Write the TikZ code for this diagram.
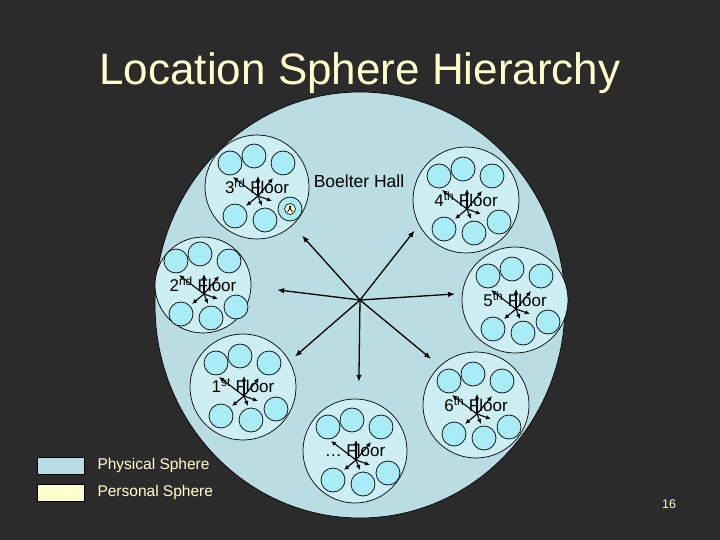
\documentclass[tikz,border=0pt]{standalone}
\usepackage{fontspec}
\setmainfont{Liberation Sans}
\usetikzlibrary{arrows.meta,calc}
\definecolor{slidebg}{HTML}{2B2B2B}
\definecolor{physical}{HTML}{B9DDE2}
\definecolor{floorfill}{HTML}{CDEFF3}
\definecolor{roomfill}{HTML}{A8ECF5}
\definecolor{personal}{HTML}{FFFFCC}

\begin{document}
\begin{tikzpicture}[x=1pt,y=-1pt,
  floorball/.style={circle,draw,line width=0.7pt,fill=floorfill,inner sep=0pt},
  roomball/.style={circle,draw,line width=0.7pt,fill=roomfill,minimum size=24pt,inner sep=0pt},
  hubarrow/.style={line width=1.3pt,-{Latex[length=7pt,width=5.5pt]}},
  stararrow/.style={line width=1.1pt,-{Latex[length=5pt,width=4.5pt]}},
  floorlabel/.style={font=\fontsize{17}{20}\selectfont},
  legendtext/.style={text=personal,anchor=west,font=\fontsize{15.5}{18}\selectfont}]
  \useasboundingbox (0,0) rectangle (720,540);
  \fill[slidebg] (0,0) rectangle (720,540);
  % title
  \node[anchor=base,text=personal,font=\fontsize{44}{50}\selectfont] (title) at (360,85) {Location Sphere Hierarchy};
  % the building
  \draw[fill=physical,line width=0.7pt] (360,305) ellipse [x radius=205,y radius=213];
  \node[font=\fontsize{17.5}{20}\selectfont] (hall) at (359,181) {Boelter Hall};
  % floors
  \foreach \n/\x/\y/\d in {f3/257/187/104,f4/466/200/106,f2/203/285/96,f5/515/300/106,f1/243/387/106,f6/476/405/106,fx/355/451/104}
    \node[floorball,minimum size=\d pt] (\n) at (\x,\y) {};
  % rooms
  \foreach \n in {f3,f4,f2,f5,f1,f6,fx}
    \foreach \dx/\dy [count=\i] in {-27/-24,-3/-31,26/-24,-22/29,8/33,33/22}
      \node[roomball] (\n r\i) at ($(\n.center)+(\dx,\dy)$) {};
  % labels
  \foreach \n/\t in {f3/{3\textsuperscript{rd} Floor},f4/{4\textsuperscript{th} Floor},f2/{2\textsuperscript{nd} Floor},f5/{5\textsuperscript{th} Floor},f1/{1\textsuperscript{st} Floor},f6/{6\textsuperscript{th} Floor},fx/{\dots{} Floor}}
    \node[floorlabel] (\n t) at ($(\n.center)+(0,-1)$) {\t};
  % arrows inside each floor
  \foreach \n in {f3,f4,f2,f5,f1,f6,fx} {
    \coordinate (\n s) at ($(\n.center)+(1,9)$);
    \foreach \dx/\dy in {-25/-19,0/-20,15/-18,14/5,-12/10,4/10}
      \draw[stararrow] (\n s) -- ++(\dx,\dy);
  }
  % arrows from the hall to the floors
  \coordinate (hub) at (360,300);
  \foreach \n/\a/\g in {f3/313/14,f4/208/7,f2/358/26,f5/173/7,f1/29/7,f6/133/11,fx/86/17}
    \draw[hubarrow,shorten >=\g pt] (hub) -- (\n.\a);
  % personal sphere
  \node[circle,draw,line width=0.6pt,fill=personal,minimum size=11pt,inner sep=0pt] (me) at (f3r6) {};
  \fill ($(me)+(0,-2.2)$) circle (1.3pt);
  \draw[line width=0.8pt] ($(me)+(-2.5,3)$) -- ($(me)+(0,-1)$) -- ($(me)+(2.5,3)$);
  % legend
  \node[draw,line width=0.8pt,fill=physical,minimum width=47pt,minimum height=17pt,inner sep=0pt,anchor=north west] (keyphys) at (37,457) {};
  \node[draw,line width=0.8pt,fill=personal,minimum width=47pt,minimum height=17pt,inner sep=0pt,anchor=north west] (keypers) at (37,484) {};
  \node[legendtext] (physlbl) at (94,465.5) {Physical Sphere};
  \node[legendtext] (perslbl) at (94,492.5) {Personal Sphere};
  \node[text=personal,font=\fontsize{12.5}{14}\selectfont] (page) at (669,504) {16};
\end{tikzpicture}
\end{document}
